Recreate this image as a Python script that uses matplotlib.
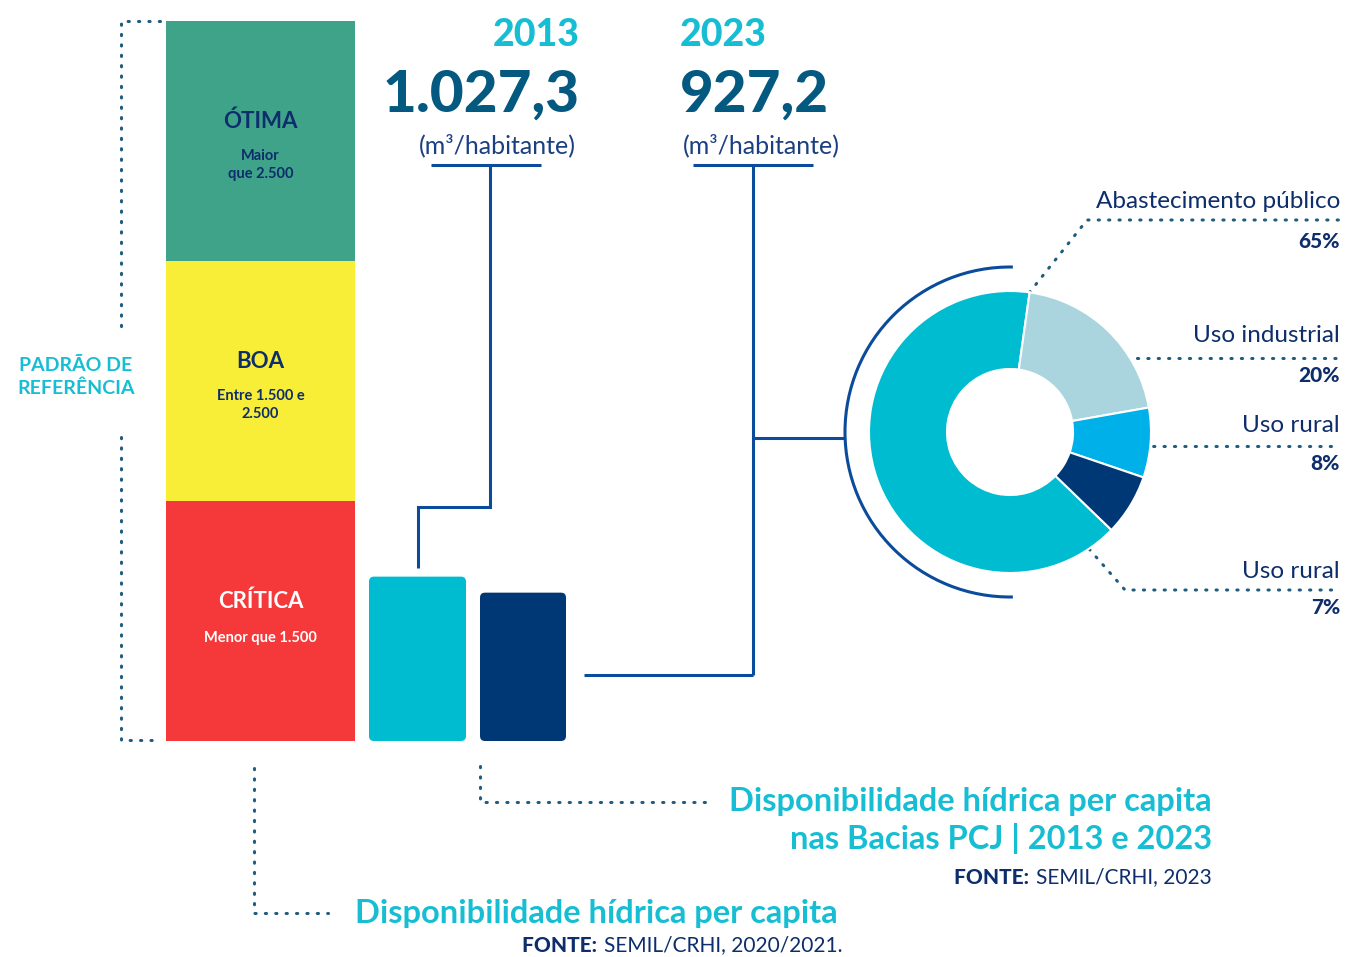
import matplotlib
matplotlib.use("Agg")
import matplotlib.pyplot as plt
from matplotlib.patches import FancyBboxPatch, Arc
import numpy as np

plt.rcParams['font.family'] = ['Lato', 'DejaVu Sans']

# reference bands (equal display bands, m3/habitante)
band_names = ['CRÍTICA', 'BOA', 'ÓTIMA']
band_notes = ['Menor que 1.500', 'Entre 1.500 e\n2.500', 'Maior\nque 2.500']
band_heights = [1500, 1500, 1500]
band_colors = ['#F5393A', '#F8EE38', '#3FA38A']
band_text = ['white', '#0D2D6B', '#0D2D6B']

years = ['2013', '2023']
per_capita = [1027.3, 927.2]
per_capita_lbl = ['1.027,3', '927,2']
year_colors = ['#00BCD0', '#003876']

uses = ['Abastecimento público', 'Uso industrial', 'Uso rural', 'Uso rural']
use_share = [65, 20, 8, 7]
use_colors = ['#00BCD0', '#AAD5DF', '#00B0E8', '#003876']

TEAL = '#17BED3'
NUM = '#03597F'
NAVY = '#0D2D6B'
LINE = '#0A4B9C'
DOT = '#1F5C80'

W, H = 1346, 957
fig = plt.figure(figsize=(W / 100, H / 100), dpi=100)

# overlay axes in pixel coordinates for annotations
ov = fig.add_axes([0, 0, 1, 1])
ov.set_xlim(0, W)
ov.set_ylim(H, 0)
ov.axis('off')

# bar axes: y=0 at pixel 741, y=4500 at pixel 21
bx = fig.add_axes([0, (H - 741) / H, 1, 720 / H])
bx.set_xlim(0, W)
bx.set_ylim(0, 4500)
bx.axis('off')

bottom = 0
for name, note, h, c, tc in zip(band_names, band_notes, band_heights, band_colors, band_text):
    bx.bar(260.5, h, bottom=bottom, width=189, color=c, linewidth=0)
    mid = bottom + h / 2
    bx.text(260.5, mid + 125, name, ha='center', va='center', fontsize=16,
            fontweight='bold', color=tc)
    bx.text(260.5, mid - 150 if '\n' in note else mid - 106, note, ha='center',
            va='center', fontsize=10.5, fontweight='bold', color=tc, linespacing=1.45)
    bottom += h

year_x = [417.5, 523]
year_w = [97, 86]
for xx, ww, v, c in zip(year_x, year_w, per_capita, year_colors):
    r = bx.bar(xx, v, width=ww, color=c, linewidth=0)[0]
    r.set_visible(False)
    bx.add_patch(FancyBboxPatch((r.get_x(), r.get_y()), r.get_width(), r.get_height(),
                                boxstyle='round,pad=0,rounding_size=5',
                                mutation_aspect=6.25, color=c, linewidth=0))

# year labels
label_pos = [(580, 'right', 497), (680, 'left', 761)]
for (xx, ha, cx), yr, lbl in zip(label_pos, years, per_capita_lbl):
    ov.text(xx, 35, yr, ha=ha, va='center', fontsize=27, fontweight='black', color=TEAL)
    ov.text(xx, 95, lbl, ha=ha, va='center', fontsize=42, fontweight='black', color=NUM)
    ov.text(cx, 145, '(m³/habitante)', ha='center', va='center', fontsize=18,
            color='#1B3F80')

lk = dict(color=LINE, lw=2.2, solid_capstyle='butt', solid_joinstyle='miter')
ov.plot([431, 541], [165, 165], **lk)
ov.plot([490, 490, 418, 418], [165, 507, 507, 568], **lk)
ov.plot([693, 813], [165, 165], **lk)
ov.plot([753, 753], [165, 675], **lk)
ov.plot([584, 753], [675, 675], **lk)
ov.plot([753, 845], [438, 438], **lk)

dk = dict(color=DOT, lw=2.2, linestyle=(0, (0.4, 3.0)), dash_capstyle='round')
ov.plot([160, 121, 121], [21, 21, 330], **dk)
ov.plot([121, 121, 160], [437, 740, 740], **dk)
ov.plot([254, 254, 328], [768, 913, 913], **dk)
ov.plot([480, 480, 710], [766, 802, 802], **dk)
ov.text(76, 377, 'PADRÃO DE\nREFERÊNCIA', ha='center', va='center', fontsize=14,
        fontweight='bold', color=TEAL, linespacing=1.4)

# donut
R = 141
half = 1.2 * R
px = fig.add_axes([(1010 - half) / W, (H - 432 - half) / H, 2 * half / W, 2 * half / H])
px.pie(use_share, colors=use_colors, startangle=-44, counterclock=False, radius=1,
       wedgeprops=dict(width=0.553, edgecolor='white', linewidth=1.5))
px.set_xlim(-1.2, 1.2)
px.set_ylim(-1.2, 1.2)
px.set_aspect('equal')
px.axis('off')
px.add_patch(Arc((0, 0), 2 * 165 / R, 2 * 165 / R, theta1=89, theta2=271,
                 color=LINE, lw=2.2))

# donut labels
lab_y = [(201, 241), (336, 376), (426, 464), (571, 608)]
for (ty, py), name, s in zip(lab_y, uses, use_share):
    ov.text(1340, ty, name, ha='right', va='center', fontsize=17.5, color=NAVY)
    ov.text(1340, py, f'{s}%', ha='right', va='center', fontsize=15,
            fontweight='black', color=NAVY)
ov.plot([1010, 1087, 1340], [317, 220, 220], **dk)
ov.plot([1085, 1340], [358, 358], **dk)
ov.plot([1122, 1340], [446, 446], **dk)
ov.plot([1055, 1125, 1340], [510, 590, 590], **dk)

# titles and sources
renderer = fig.canvas.get_renderer()


def source(x, y, rest, size):
    t = ov.text(x, y, rest, ha='right', va='center', fontsize=size, color=NAVY)
    bb = t.get_window_extent(renderer)
    x0 = ov.transData.inverted().transform((bb.x0, bb.y0))[0]
    ov.text(x0 - 2, y, 'FONTE: ', ha='right', va='center', fontsize=size,
            fontweight='black', color=NAVY)


ov.text(1212, 801, 'Disponibilidade hídrica per capita', ha='right', va='center',
        fontsize=23.5, fontweight='bold', color=TEAL)
ov.text(1212, 838, 'nas Bacias PCJ | 2013 e 2023', ha='right', va='center',
        fontsize=23.5, fontweight='bold', color=TEAL)
source(1212, 877, 'SEMIL/CRHI, 2023', 15)
ov.text(838, 914, 'Disponibilidade hídrica per capita', ha='right', va='center',
        fontsize=23.5, fontweight='bold', color=TEAL)
source(843, 945, 'SEMIL/CRHI, 2020/2021.', 15)

fig.savefig('out.png', dpi=100)
